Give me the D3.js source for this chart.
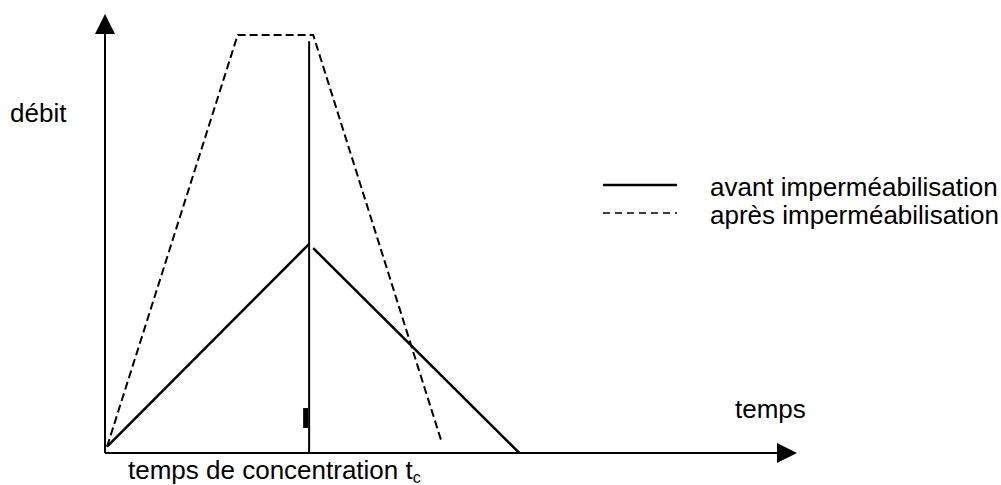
<!DOCTYPE html>
<html>
<head>
<meta charset="utf-8">
<script src="https://cdn.jsdelivr.net/npm/d3@7"></script>
<style>
  html, body { margin: 0; padding: 0; background: #fff; }
  svg { display: block; }
  text { font-family: "Liberation Sans", Arial, sans-serif; fill: #000; }
</style>
</head>
<body>
<svg id="chart" width="1001" height="485"></svg>
<script>
// ---- data (time in units of tc, discharge in units of the pre-development peak) ----
const tc = 1.0;
const avantLeft  = [[0.01, 0.03], [1.0, 1.0]];
const avantRight = [[1.02, 0.98], [2.03, 0.0]];
const apres      = [[0.01, 0.03], [0.65, 2.0], [1.02, 2.0], [1.65, 0.05]];
const tcLineTop  = 1.97;
const tcMark     = [0.12, 0.215];
const yLabel     = "débit";
const xLabel     = "temps";
const tcLabel    = "temps de concentration t";
const tcSub      = "c";
const legendLabels = ["avant imperméabilisation", "après imperméabilisation"];

const svg = d3.select("#chart");
const x = d3.scaleLinear().domain([0, 3.39]).range([105, 797]);
const y = d3.scaleLinear().domain([0, 2.1]).range([453, 14]);
const line = d3.line().x(d => x(d[0])).y(d => y(d[1]));

const arrow = 20;
// axes
svg.append("line").attr("x1", x(0)).attr("x2", x(0)).attr("y1", y(0)).attr("y2", y.range()[1] + arrow)
  .attr("stroke", "#000").attr("stroke-width", 2);
svg.append("path").attr("d", `M${x(0)},${y.range()[1]} L${x(0)-10},${y.range()[1]+arrow} L${x(0)+10},${y.range()[1]+arrow} Z`)
  .attr("fill", "#000");
svg.append("line").attr("x1", x(0)).attr("x2", x.range()[1] - arrow).attr("y1", y(0)).attr("y2", y(0))
  .attr("stroke", "#000").attr("stroke-width", 2);
svg.append("path").attr("d", `M${x.range()[1]},${y(0)} L${x.range()[1]-arrow},${y(0)-10} L${x.range()[1]-arrow},${y(0)+10} Z`)
  .attr("fill", "#000");

// tc vertical line and mark
svg.append("line").attr("x1", x(tc)).attr("x2", x(tc)).attr("y1", y(tcLineTop)).attr("y2", y(0))
  .attr("stroke", "#000").attr("stroke-width", 2);
svg.append("rect").attr("x", x(tc) - 6).attr("width", 5)
  .attr("y", y(tcMark[1])).attr("height", y(tcMark[0]) - y(tcMark[1])).attr("fill", "#000");

// series
[avantLeft, avantRight].forEach(seg =>
  svg.append("path").attr("d", line(seg)).attr("fill", "none").attr("stroke", "#000").attr("stroke-width", 2.5));
svg.append("path").attr("d", line(apres)).attr("fill", "none").attr("stroke", "#000")
  .attr("stroke-width", 2).attr("stroke-dasharray", "8,4");

// labels
const fs = 26;
svg.append("text").attr("x", 10).attr("y", 122).attr("font-size", fs).text(yLabel);
svg.append("text").attr("x", 735).attr("y", 418).attr("font-size", fs).text(xLabel);
const t = svg.append("text").attr("x", 128).attr("y", 479).attr("font-size", fs).text(tcLabel);
t.append("tspan").attr("font-size", 16).attr("dy", 4).text(tcSub);

// legend
const lg = svg.append("g");
legendLabels.forEach((lab, i) => {
  const yy = 185 + i * 28;
  lg.append("line").attr("x1", 603).attr("x2", 677).attr("y1", yy).attr("y2", yy)
    .attr("stroke", "#000").attr("stroke-width", i === 0 ? 2.5 : 1.5)
    .attr("stroke-dasharray", i === 0 ? null : "7,5");
  lg.append("text").attr("x", 710).attr("y", yy + 11).attr("font-size", fs).text(lab);
});
</script>
</body>
</html>
